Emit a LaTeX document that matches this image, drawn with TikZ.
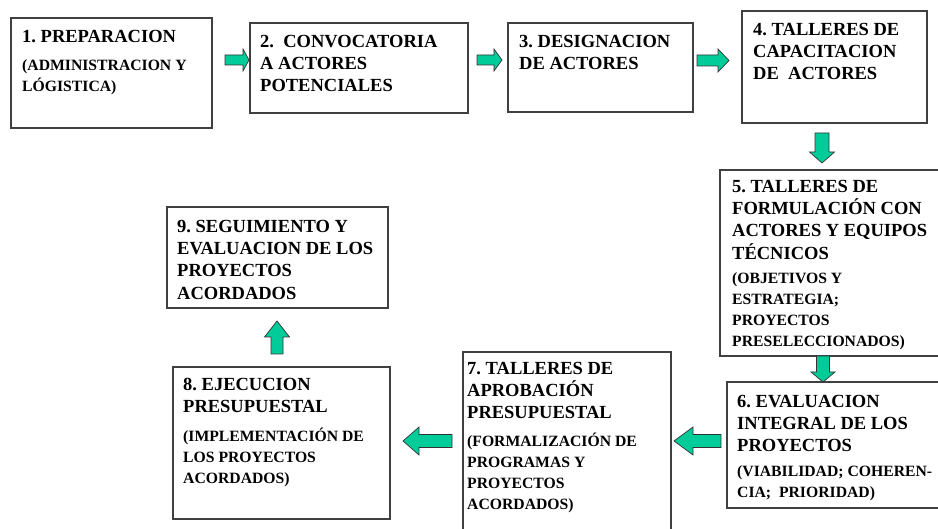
\documentclass[tikz,border=0pt]{standalone}
\usepackage{fontspec}
\setmainfont{Liberation Serif}
\definecolor{agreen}{RGB}{0,204,153}
\definecolor{bordc}{RGB}{64,64,64}
\begin{document}
\frenchspacing
\begin{tikzpicture}[x=1pt,y=-1pt,
  box/.style={draw=bordc, line width=1.2pt, fill=white, inner sep=0pt, outer sep=0pt, anchor=north west},
  ttl/.style={anchor=north west, inner sep=0pt, align=left, text=black, font=\fontsize{18.5}{22.3}\selectfont\bfseries},
  subt/.style={anchor=north west, inner sep=0pt, align=left, text=black, font=\fontsize{15.7}{21}\selectfont\bfseries},
  arrowline/.style={draw=black!80, line width=0.7pt, fill=agreen, line join=miter},
  pics/barrow/.style n args={4}{code={\path[arrowline] (0,-#2) -- ({#1-#4},-#2) -- ({#1-#4},-#3) -- (#1,0) -- ({#1-#4},#3) -- ({#1-#4},#2) -- (0,#2) -- cycle;}}
]
\useasboundingbox (0,0) rectangle (938,529);
\fill[white] (0,0) rectangle (938,529);
\clip (0,0) rectangle (938,529);

% boxes
\node[box, minimum width=201pt, minimum height=110pt] (b1) at (11,18) {};
\node[box, minimum width=218pt, minimum height=90pt] (b2) at (250,23) {};
\node[box, minimum width=185pt, minimum height=89pt] (b3) at (508,23) {};
\node[box, minimum width=185pt, minimum height=112pt] (b4) at (742,11) {};
\node[box, minimum width=225pt, minimum height=186pt] (b5) at (720,170) {};
\node[box, minimum width=220pt, minimum height=126pt] (b6) at (727,382) {};
\node[box, minimum width=208pt, minimum height=190pt] (b7) at (463,352) {};
\node[box, minimum width=217pt, minimum height=152pt] (b8) at (173,367) {};
\node[box, minimum width=221pt, minimum height=101pt] (b9) at (167,207) {};

% texts
\node[ttl] (t1) at (22,24) {\rule{0pt}{18pt}1. PREPARACION};
\node[subt] (s1) at (22,55) {\rule{0pt}{15pt}(ADMINISTRACION Y\\LÓGISTICA)};
\node[ttl] (t2) at (260,29) {\rule{0pt}{18pt}2.\ \ CONVOCATORIA\\A ACTORES\\POTENCIALES};
\node[ttl] (t3) at (519,29) {\rule{0pt}{18pt}3. DESIGNACION\\DE ACTORES};
\node[ttl] (t4) at (753,17) {\rule{0pt}{18pt}4. TALLERES DE\\CAPACITACION\\DE\ \ ACTORES};
\node[ttl] (t5) at (732,174) {\rule{0pt}{18pt}5. TALLERES DE\\FORMULACIÓN CON\\ACTORES Y EQUIPOS\\TÉCNICOS};
\node[subt] (s5) at (732,268) {\rule{0pt}{15pt}(OBJETIVOS Y\\ESTRATEGIA;\\PROYECTOS\\PRESELECCIONADOS)};
\node[ttl] (t6) at (737,389) {\rule{0pt}{18pt}6. EVALUACION\\INTEGRAL DE LOS\\PROYECTOS};
\node[subt] (s6) at (737,461) {\rule{0pt}{15pt}(VIABILIDAD; COHEREN-\\CIA;\ \ PRIORIDAD)};
\node[ttl] (t7) at (467,356) {\rule{0pt}{18pt}7. TALLERES DE\\APROBACIÓN\\PRESUPUESTAL};
\node[subt] (s7) at (467,431) {\rule{0pt}{15pt}(FORMALIZACIÓN DE\\PROGRAMAS Y\\PROYECTOS\\ACORDADOS)};
\node[ttl] (t8) at (183,372) {\rule{0pt}{18pt}8. EJECUCION\\PRESUPUESTAL};
\node[subt] (s8) at (183,426) {\rule{0pt}{15pt}(IMPLEMENTACIÓN DE\\LOS PROYECTOS\\ACORDADOS)};
\node[ttl] (t9) at (177,214) {\rule{0pt}{18pt}9. SEGUIMIENTO Y\\EVALUACION DE LOS\\PROYECTOS\\ACORDADOS};

% block arrows
\pic at (225,60) {barrow={24}{5}{11}{6}};
\pic at (477,60) {barrow={25}{5}{11}{8}};
\pic at (697,60.5) {barrow={32}{5.5}{11.5}{11}};
\pic[rotate=-90] at (822,133) {barrow={30}{7}{12.5}{11}};
\pic[rotate=-90] at (823,356) {barrow={26}{6.5}{12}{10}};
\pic[rotate=180] at (721,441) {barrow={47}{6.5}{14}{19}};
\pic[rotate=180] at (452,441) {barrow={49}{6.5}{14}{16}};
\pic[rotate=90] at (277,354) {barrow={33}{6}{12.5}{16}};
\end{tikzpicture}
\end{document}
